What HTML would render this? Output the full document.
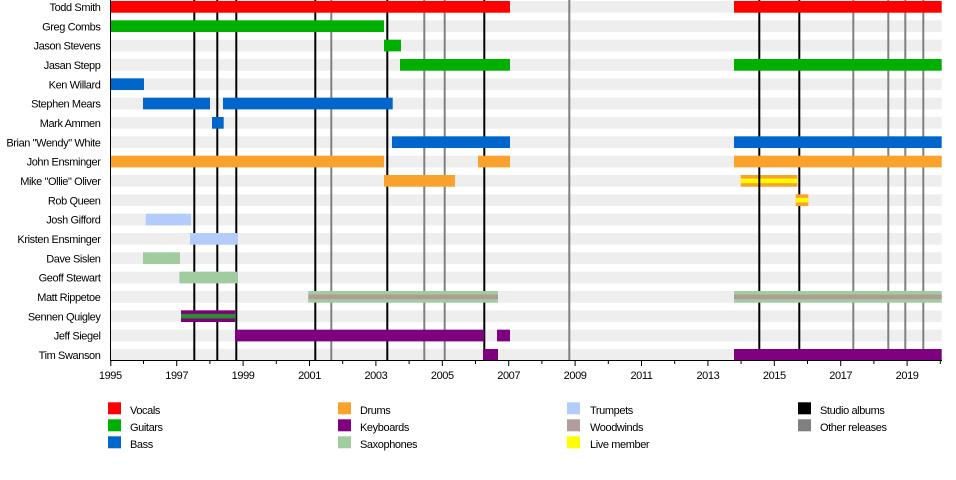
<!DOCTYPE html>
<html>
<head>
<meta charset="utf-8">
<style>
html,body{margin:0;padding:0;background:#fff;}
svg{display:block;}
text{font-family:"Liberation Sans",Arial,sans-serif;font-size:11px;letter-spacing:-0.4px;fill:#000;}
</style>
</head>
<body>
<svg width="956" height="480" viewBox="0 0 956 480" xmlns="http://www.w3.org/2000/svg">
<rect width="956" height="480" fill="#fff"/>
<!-- row background bands -->
<g fill="#eeeeee">
<rect x="110.3" y="1" width="831.4" height="11.7"/>
<rect x="110.3" y="20.33" width="831.4" height="11.7"/>
<rect x="110.3" y="39.67" width="831.4" height="11.7"/>
<rect x="110.3" y="59" width="831.4" height="11.7"/>
<rect x="110.3" y="78.33" width="831.4" height="11.7"/>
<rect x="110.3" y="97.67" width="831.4" height="11.7"/>
<rect x="110.3" y="117" width="831.4" height="11.7"/>
<rect x="110.3" y="136.33" width="831.4" height="11.7"/>
<rect x="110.3" y="155.67" width="831.4" height="11.7"/>
<rect x="110.3" y="175" width="831.4" height="11.7"/>
<rect x="110.3" y="194.33" width="831.4" height="11.7"/>
<rect x="110.3" y="213.67" width="831.4" height="11.7"/>
<rect x="110.3" y="233" width="831.4" height="11.7"/>
<rect x="110.3" y="252.33" width="831.4" height="11.7"/>
<rect x="110.3" y="271.67" width="831.4" height="11.7"/>
<rect x="110.3" y="291" width="831.4" height="11.7"/>
<rect x="110.3" y="310.33" width="831.4" height="11.7"/>
<rect x="110.3" y="329.67" width="831.4" height="11.7"/>
<rect x="110.3" y="349" width="831.4" height="11.7"/>
</g>

<!-- Mike Oliver live bar (behind lines) -->
<rect x="740.7" y="175" width="56.6" height="11.7" fill="#FBA22C"/>
<rect x="740.7" y="178.6" width="56.6" height="4.6" fill="#FFFF00"/>

<!-- release lines -->
<g stroke="#000" stroke-width="2">
<line x1="194.3" y1="0" x2="194.3" y2="360"/>
<line x1="217.3" y1="0" x2="217.3" y2="360"/>
<line x1="236.3" y1="0" x2="236.3" y2="360"/>
<line x1="315.3" y1="0" x2="315.3" y2="360"/>
<line x1="387.3" y1="0" x2="387.3" y2="360"/>
<line x1="484.3" y1="0" x2="484.3" y2="360"/>
<line x1="759.3" y1="0" x2="759.3" y2="360"/>
<line x1="799.3" y1="0" x2="799.3" y2="360"/>
</g>
<g stroke="#808080" stroke-width="2">
<line x1="331.3" y1="0" x2="331.3" y2="360"/>
<line x1="424.3" y1="0" x2="424.3" y2="360"/>
<line x1="444.7" y1="0" x2="444.7" y2="360"/>
<line x1="569.3" y1="0" x2="569.3" y2="360"/>
<line x1="853.3" y1="0" x2="853.3" y2="360"/>
<line x1="888.3" y1="0" x2="888.3" y2="360"/>
<line x1="905.3" y1="0" x2="905.3" y2="360"/>
<line x1="923.3" y1="0" x2="923.3" y2="360"/>
</g>

<!-- bars -->
<rect x="110.3" y="1" width="399.7" height="11.7" fill="#FF0000"/>
<rect x="734" y="1" width="207.7" height="11.7" fill="#FF0000"/>
<rect x="110.3" y="20.33" width="273.7" height="11.7" fill="#00B000"/>
<rect x="384" y="39.67" width="17" height="11.7" fill="#00B000"/>
<rect x="400" y="59" width="110" height="11.7" fill="#00B000"/>
<rect x="734" y="59" width="207.7" height="11.7" fill="#00B000"/>
<rect x="110.3" y="78.33" width="33.7" height="11.7" fill="#0066CC"/>
<rect x="143" y="97.67" width="67" height="11.7" fill="#0066CC"/>
<rect x="223" y="97.67" width="169.7" height="11.7" fill="#0066CC"/>
<rect x="212" y="117" width="11.7" height="11.7" fill="#0066CC"/>
<rect x="392" y="136.33" width="118" height="11.7" fill="#0066CC"/>
<rect x="734" y="136.33" width="207.7" height="11.7" fill="#0066CC"/>
<rect x="110.3" y="155.67" width="273.7" height="11.7" fill="#FBA22C"/>
<rect x="478" y="155.67" width="32" height="11.7" fill="#FBA22C"/>
<rect x="734" y="155.67" width="207.7" height="11.7" fill="#FBA22C"/>
<rect x="384" y="175" width="71" height="11.7" fill="#FBA22C"/>
<rect x="795.7" y="194.33" width="12.6" height="11.7" fill="#FBA22C"/>
<rect x="795.7" y="197.9" width="12.6" height="4.6" fill="#FFFF00"/>
<rect x="145.7" y="213.67" width="45.3" height="11.7" fill="#B3CCFA"/>
<rect x="190" y="233" width="48" height="11.7" fill="#B3CCFA"/>
<rect x="143" y="252.33" width="37" height="11.7" fill="#A0CCA0"/>
<rect x="179.3" y="271.67" width="58.7" height="11.7" fill="#A0CCA0"/>
<rect x="308.3" y="291" width="189.7" height="11.7" fill="#A0CCA0"/>
<rect x="308.3" y="294.6" width="189.7" height="4.6" fill="#B09C92"/>
<rect x="734" y="291" width="207.7" height="11.7" fill="#A0CCA0"/>
<rect x="734" y="294.6" width="207.7" height="4.6" fill="#B09C92"/>
<rect x="181" y="310.33" width="54" height="11.7" fill="#7F007F"/>
<rect x="181" y="313.9" width="54" height="4.6" fill="#2A8F2A"/>
<rect x="235" y="329.67" width="249.3" height="11.7" fill="#7F007F"/>
<rect x="497" y="329.67" width="13" height="11.7" fill="#7F007F"/>
<rect x="483" y="349" width="15" height="11.7" fill="#7F007F"/>
<rect x="734" y="349" width="207.7" height="11.7" fill="#7F007F"/>

<!-- left axis line -->
<line x1="110.5" y1="0" x2="110.5" y2="361" stroke="#000" stroke-width="1"/>
<!-- bottom axis -->
<line x1="110" y1="360.5" x2="942" y2="360.5" stroke="#000" stroke-width="1"/>
<g stroke="#000" stroke-width="1">
<line x1="110.8" y1="360" x2="110.8" y2="366"/>
<line x1="143.5" y1="360" x2="143.5" y2="364"/>
<line x1="176.7" y1="360" x2="176.7" y2="366"/>
<line x1="209.9" y1="360" x2="209.9" y2="364"/>
<line x1="243.1" y1="360" x2="243.1" y2="366"/>
<line x1="276.3" y1="360" x2="276.3" y2="364"/>
<line x1="309.5" y1="360" x2="309.5" y2="366"/>
<line x1="342.7" y1="360" x2="342.7" y2="364"/>
<line x1="375.9" y1="360" x2="375.9" y2="366"/>
<line x1="409.1" y1="360" x2="409.1" y2="364"/>
<line x1="442.3" y1="360" x2="442.3" y2="366"/>
<line x1="475.5" y1="360" x2="475.5" y2="364"/>
<line x1="508.7" y1="360" x2="508.7" y2="366"/>
<line x1="541.9" y1="360" x2="541.9" y2="364"/>
<line x1="575.1" y1="360" x2="575.1" y2="366"/>
<line x1="608.3" y1="360" x2="608.3" y2="364"/>
<line x1="641.5" y1="360" x2="641.5" y2="366"/>
<line x1="674.7" y1="360" x2="674.7" y2="364"/>
<line x1="707.9" y1="360" x2="707.9" y2="366"/>
<line x1="741.1" y1="360" x2="741.1" y2="364"/>
<line x1="774.3" y1="360" x2="774.3" y2="366"/>
<line x1="807.5" y1="360" x2="807.5" y2="364"/>
<line x1="840.7" y1="360" x2="840.7" y2="366"/>
<line x1="873.9" y1="360" x2="873.9" y2="364"/>
<line x1="907.1" y1="360" x2="907.1" y2="366"/>
<line x1="940.3" y1="360" x2="940.3" y2="364"/>
</g>
<g text-anchor="middle">
<text x="110.3" y="379">1995</text>
<text x="176.7" y="379">1997</text>
<text x="243.1" y="379">1999</text>
<text x="309.5" y="379">2001</text>
<text x="375.9" y="379">2003</text>
<text x="442.3" y="379">2005</text>
<text x="508.7" y="379">2007</text>
<text x="575.1" y="379">2009</text>
<text x="641.5" y="379">2011</text>
<text x="707.9" y="379">2013</text>
<text x="774.3" y="379">2015</text>
<text x="840.7" y="379">2017</text>
<text x="907.1" y="379">2019</text>
</g>

<!-- row labels -->
<g text-anchor="end">
<text x="100.5" y="11">Todd Smith</text>
<text x="100.5" y="30.3">Greg Combs</text>
<text x="100.5" y="49.7">Jason Stevens</text>
<text x="100.5" y="69">Jasan Stepp</text>
<text x="100.5" y="88.3">Ken Willard</text>
<text x="100.5" y="107.7">Stephen Mears</text>
<text x="100.5" y="127">Mark Ammen</text>
<text x="100.5" y="146.3">Brian "Wendy" White</text>
<text x="100.5" y="165.7">John Ensminger</text>
<text x="100.5" y="185">Mike "Ollie" Oliver</text>
<text x="100.5" y="204.3">Rob Queen</text>
<text x="100.5" y="223.7">Josh Gifford</text>
<text x="100.5" y="243">Kristen Ensminger</text>
<text x="100.5" y="262.3">Dave Sislen</text>
<text x="100.5" y="281.7">Geoff Stewart</text>
<text x="100.5" y="301">Matt Rippetoe</text>
<text x="100.5" y="320.3">Sennen Quigley</text>
<text x="100.5" y="339.7">Jeff Siegel</text>
<text x="100.5" y="359">Tim Swanson</text>
</g>

<!-- legend -->
<rect x="108" y="402.3" width="13" height="12" fill="#FF0000"/>
<rect x="108" y="419.3" width="13" height="12" fill="#00B000"/>
<rect x="108" y="436.3" width="13" height="12" fill="#0066CC"/>
<text x="130" y="414">Vocals</text>
<text x="130" y="431">Guitars</text>
<text x="130" y="448">Bass</text>

<rect x="338" y="402.3" width="13" height="12" fill="#FBA22C"/>
<rect x="338" y="419.3" width="13" height="12" fill="#7F007F"/>
<rect x="338" y="436.3" width="13" height="12" fill="#A0CCA0"/>
<text x="360" y="414">Drums</text>
<text x="360" y="431">Keyboards</text>
<text x="360" y="448">Saxophones</text>

<rect x="567" y="402.3" width="13" height="12" fill="#B3CCFA"/>
<rect x="567" y="419.3" width="13" height="12" fill="#B39C9C"/>
<rect x="567" y="436.3" width="13" height="12" fill="#FFFF00"/>
<text x="590" y="414">Trumpets</text>
<text x="590" y="431">Woodwinds</text>
<text x="590" y="448">Live member</text>

<rect x="798" y="402.3" width="13" height="12" fill="#000000"/>
<rect x="798" y="419.3" width="13" height="12" fill="#808080"/>
<text x="820" y="414">Studio albums</text>
<text x="820" y="431">Other releases</text>
</svg>
</body>
</html>
